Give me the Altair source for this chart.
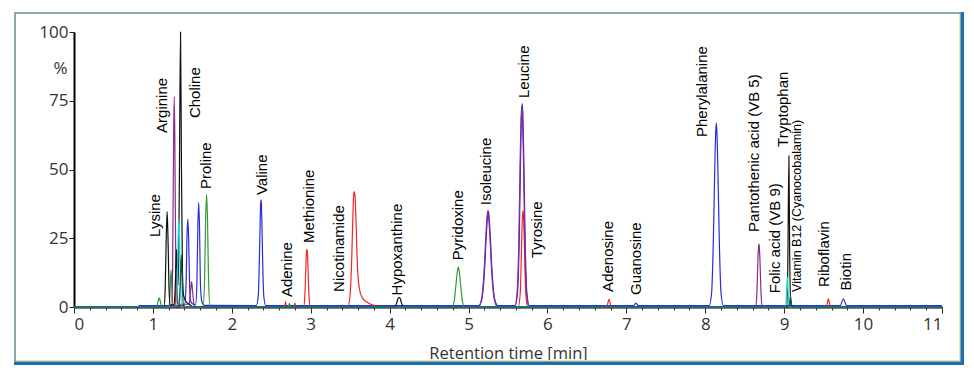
import altair as alt
import pandas as pd

# ---- chromatogram traces: (retention time [min], intensity [%]) ----
blue = [(0.82, 0.5),
        (1.40, 0.5), (1.42, 8), (1.432, 26), (1.442, 32), (1.452, 26), (1.465, 8), (1.48, 2), (1.50, 1.2),
        (1.54, 0.8), (1.557, 8), (1.57, 30), (1.58, 38), (1.59, 30), (1.603, 8), (1.62, 2), (1.65, 0.6),
        (2.31, 0.5), (2.335, 4), (2.35, 18), (2.36, 32), (2.366, 38), (2.37, 39), (2.374, 38), (2.38, 32),
        (2.39, 18), (2.405, 4), (2.43, 0.5),
        (5.13, 0.5), (5.17, 3), (5.20, 12), (5.225, 26), (5.242, 33.5), (5.25, 35), (5.258, 33.5),
        (5.275, 26), (5.30, 12), (5.33, 3), (5.37, 0.5),
        (5.59, 0.5), (5.62, 5), (5.643, 25), (5.66, 55), (5.673, 71), (5.68, 74), (5.687, 71),
        (5.70, 55), (5.717, 25), (5.74, 5), (5.77, 0.5),
        (7.09, 0.5), (7.12, 1.4), (7.15, 0.5),
        (8.05, 0.5), (8.08, 5), (8.103, 25), (8.12, 50), (8.133, 64), (8.14, 67), (8.147, 64),
        (8.16, 50), (8.177, 25), (8.20, 5), (8.23, 0.5),
        (9.71, 0.5), (9.75, 3), (9.79, 0.5),
        (11.0, 0.5)]

green = [(0.0, 0), (1.05, 0), (1.065, 2), (1.08, 3.3), (1.095, 2), (1.11, 0),
         (1.205, 0), (1.218, 6), (1.23, 13.5), (1.242, 6), (1.255, 0),
         (1.635, 0), (1.655, 10), (1.668, 32), (1.68, 41), (1.692, 32), (1.705, 10), (1.725, 0),
         (2.71, 0), (2.73, 1.2), (2.75, 0),
         (4.79, 0), (4.82, 2.5), (4.84, 8), (4.858, 13), (4.87, 14.5), (4.882, 13), (4.90, 8),
         (4.92, 2.5), (4.95, 0),
         (11.0, 0)]

red = [(0.0, 0), (1.28, 0), (1.29, 5), (1.30, 12), (1.31, 5), (1.32, 0),
       (2.67, 0), (2.68, 2), (2.69, 0),
       (2.79, 0), (2.80, 1.5), (2.81, 0),
       (2.91, 0), (2.925, 4), (2.937, 13), (2.946, 20), (2.952, 21), (2.958, 20), (2.967, 13),
       (2.978, 4), (2.995, 0),
       (3.47, 0), (3.50, 5), (3.52, 18), (3.535, 34), (3.545, 41), (3.553, 42), (3.562, 40),
       (3.575, 30), (3.59, 16), (3.615, 7), (3.65, 3.5), (3.70, 2), (3.78, 0.8), (3.90, 0),
       (5.63, 0), (5.655, 5), (5.672, 22), (5.683, 33), (5.69, 35), (5.697, 33), (5.708, 22),
       (5.725, 5), (5.75, 0),
       (6.75, 0), (6.78, 2.8), (6.81, 0),
       (9.535, 0), (9.56, 3), (9.585, 0),
       (11.0, 0)]

purple = [(0.0, 0), (1.235, 0), (1.25, 15), (1.262, 60), (1.27, 76.5), (1.278, 60), (1.29, 15),
          (1.305, 2), (1.33, 1),
          (1.46, 1), (1.475, 5), (1.49, 9.2), (1.505, 5), (1.52, 1), (1.54, 0),
          (5.125, 0), (5.165, 3), (5.195, 12), (5.22, 26), (5.237, 33.5), (5.245, 35), (5.253, 33.5),
          (5.27, 26), (5.295, 12), (5.325, 3), (5.365, 0),
          (5.585, 0), (5.615, 5), (5.638, 25), (5.655, 55), (5.668, 70), (5.675, 73), (5.682, 70),
          (5.695, 55), (5.712, 25), (5.735, 5), (5.765, 0),
          (8.64, 0), (8.655, 6), (8.668, 18), (8.676, 22), (8.68, 23), (8.684, 22), (8.692, 18),
          (8.705, 6), (8.72, 0),
          (11.0, 0)]

black = [(0.0, 0), (1.14, 0), (1.155, 6), (1.168, 24), (1.18, 34.7), (1.192, 24), (1.205, 6), (1.22, 0.8),
         (1.27, 1), (1.285, 9), (1.30, 21), (1.31, 12), (1.32, 8),
         (1.335, 45), (1.35, 100), (1.362, 50), (1.375, 12), (1.39, 4), (1.42, 2), (1.46, 1), (1.52, 0),
         (4.06, 0), (4.09, 1.5), (4.105, 3), (4.12, 3.5), (4.135, 3), (4.15, 1.5), (4.18, 0),
         (9.035, 0), (9.047, 18), (9.06, 55), (9.07, 18), (9.085, 0),
         (11.0, 0)]

cyan = [(0.0, 0), (1.29, 0), (1.31, 10), (1.322, 28), (1.33, 32), (1.338, 25), (1.35, 8), (1.37, 0),
        (9.02, 0), (9.03, 6), (9.04, 11), (9.05, 6), (9.06, 0),
        (11.0, 0)]

teal = [(0.0, 0), (1.33, 0), (1.345, 8), (1.36, 19), (1.372, 8), (1.39, 0),
        (9.06, 0), (9.07, 2), (9.08, 4), (9.09, 2), (9.10, 0),
        (11.0, 0)]

trace_names = ["blue", "green", "red", "purple", "black", "cyan", "teal"]
trace_colors = ["#2b2bdc", "#33993a", "#f02626", "#8a2a8c", "#111111", "#19d9d9", "#0d5a48"]
traces = [blue, green, red, purple, black, cyan, teal]

# ---- peak labels: name, time [min], intensity where text starts, font size ----
label_names = ["Lysine", "Arginine", "Choline", "Proline", "Valine", "Adenine", "Methionine",
               "Nicotinamide", "Hypoxanthine", "Pyridoxine", "Isoleucine", "Leucine", "Tyrosine",
               "Adenosine", "Guanosine", "Pherylalanine", "Pantothenic acid (VB 5)", "Folic acid (VB 9)",
               "Tryptophan", "Vitamin B12 (Cyanocobalamin)", "Riboflavin", "Biotin"]
label_x = [1.03, 1.12, 1.53, 1.67, 2.38, 2.70, 2.98, 3.36, 4.09, 4.87, 5.22, 5.70, 5.87,
           6.77, 7.12, 7.96, 8.62, 8.88, 8.99, 9.16, 9.50, 9.78]
label_y = [25.5, 63.3, 68.7, 42.9, 40.7, 3.6, 23.3, 5.5, 4.2, 17.0, 37.0, 76.0, 17.8,
           5.5, 4.4, 61.8, 27.3, 5.0, 58.2, 5.5, 7.3, 6.0]
label_size = [15, 15, 15, 15, 15, 15, 15, 15, 15, 15, 15, 15, 15,
              15, 15, 15, 15, 15, 15, 12.5, 15, 15]

x_major = list(range(0, 12))
x_minor = [round(i * 0.2, 1) for i in range(0, 56)]
y_ticks = [0, 25, 50, 75, 100]

rows = []
for name, pts in zip(trace_names, traces):
    for i, (t, v) in enumerate(pts):
        rows.append({"trace": name, "t": t, "v": v, "i": i})
df = pd.DataFrame(rows)
labels_df = pd.DataFrame({"name": label_names, "x": label_x, "y": label_y, "fs": label_size})

xscale = alt.Scale(domain=[0, 11], nice=False, zero=False)
yscale = alt.Scale(domain=[0, 100], nice=False)

y_axis = alt.Axis(values=y_ticks, title="%", titleAngle=0, titleX=-14, titleY=36,
                  titleAlign="center", titleBaseline="middle", titleFont="Open Sans",
                  titleFontSize=17, titleFontWeight="normal", titleColor="#333333",
                  grid=False, domainColor="#000000", domainWidth=2, tickColor="#222222",
                  tickSize=5, labelFont="Open Sans", labelFontSize=17,
                  labelColor="#333333", labelPadding=1)

lines = alt.Chart(df).mark_line(strokeWidth=1.2, interpolate="monotone").encode(
    x=alt.X("t:Q", scale=xscale,
            axis=alt.Axis(values=x_major, format="d", title="Retention time [min]", orient="bottom",
                          grid=False, domainColor="#000000", domainWidth=2, tickColor="#222222",
                          tickSize=6, tickWidth=1, labelFont="Open Sans", labelFontSize=17,
                          labelColor="#333333", labelPadding=3, titleFont="Open Sans",
                          titleFontSize=16.5, titleFontWeight="normal", titleColor="#333333",
                          titleY=46, titleBaseline="middle")),
    y=alt.Y("v:Q", scale=yscale, axis=y_axis),
    color=alt.Color("trace:N", scale=alt.Scale(domain=trace_names, range=trace_colors), legend=None),
    order="i:Q",
)

texts = alt.Chart(labels_df).mark_text(angle=270, align="left", baseline="middle",
                                       font="Liberation Sans", color="#000000").encode(
    x=alt.X("x:Q", scale=xscale,
            axis=alt.Axis(values=x_minor, labels=False, domain=False, title=None, orient="bottom",
                          grid=False, tickSize=3, tickColor="#333333", tickWidth=1)),
    y=alt.Y("y:Q", scale=yscale, axis=y_axis),
    text="name:N",
    size=alt.Size("fs:Q", scale=None, legend=None),
)

one = pd.DataFrame({"a": [0]})
frame = alt.Chart(one).mark_rect(fill=None, stroke="#5b9482", strokeWidth=1.5).encode(
    x=alt.value(-59), x2=alt.value(887), y=alt.value(-19), y2=alt.value(330))
cream_b = alt.Chart(one).mark_rule(color="#ece3b5", strokeWidth=1).encode(
    x=alt.value(-58), x2=alt.value(886), y=alt.value(328.5))
cream_r = alt.Chart(one).mark_rule(color="#ece3b5", strokeWidth=1).encode(
    x=alt.value(885.5), y=alt.value(-18), y2=alt.value(329))
blue_b = alt.Chart(one).mark_rule(color="#1c6eb0", strokeWidth=3).encode(
    x=alt.value(-60), x2=alt.value(890), y=alt.value(331.5))
blue_r = alt.Chart(one).mark_rule(color="#1c6eb0", strokeWidth=3).encode(
    x=alt.value(888.5), y=alt.value(-20), y2=alt.value(333))

chart = alt.layer(frame, cream_b, cream_r, blue_b, blue_r, lines, texts).resolve_axis(
    x="independent"
).properties(
    width=868, height=275,
    autosize=alt.AutoSizeParams(type="none"),
    padding={"left": 74, "top": 32, "right": 32, "bottom": 68},
    background="white",
).configure_view(stroke=None)

chart.save("out.html", embed_options={"renderer": "svg", "actions": False})
